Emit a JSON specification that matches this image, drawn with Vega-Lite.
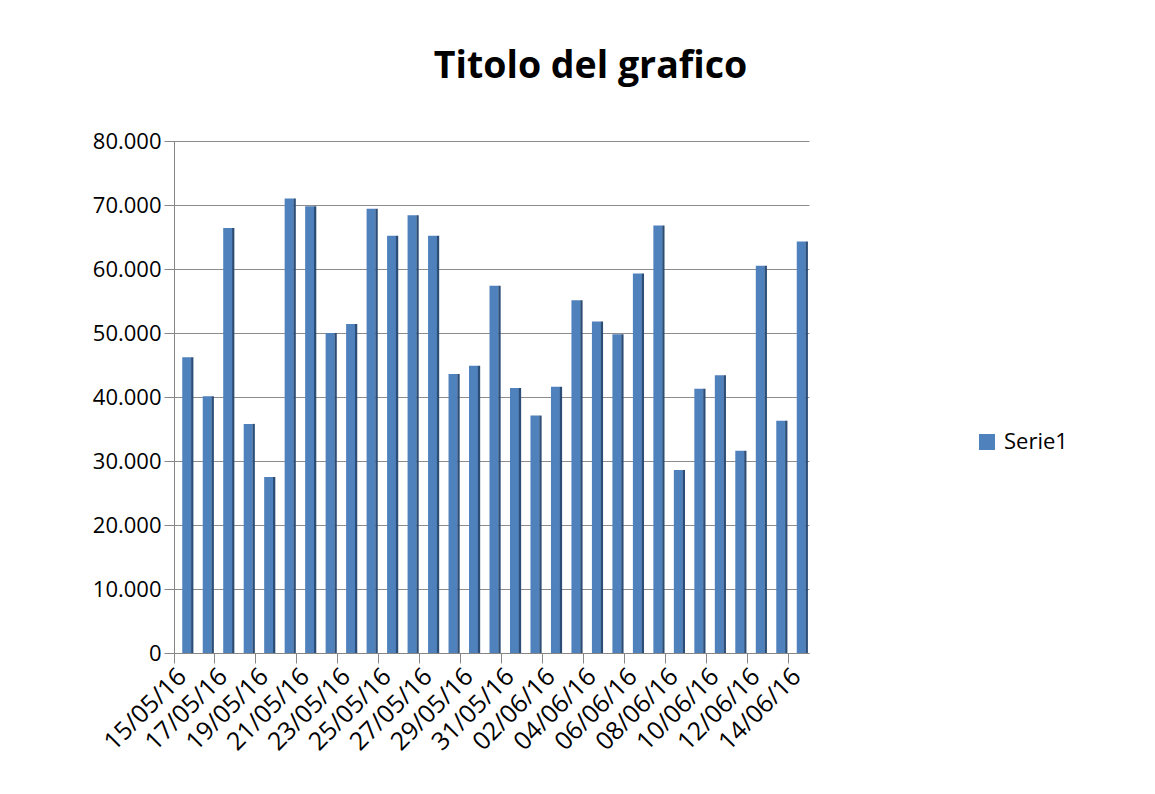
{
  "$schema": "https://vega.github.io/schema/vega-lite/v6.json",
  "width": 635,
  "height": 512,
  "autosize": "none",
  "padding": {"left": 174, "top": 141, "right": 346, "bottom": 141},
  "background": "white",
  "config": {
    "view": {"stroke": null},
    "font": "Open Sans"
  },
  "title": {
    "text": "Titolo del grafico",
    "font": "Open Sans",
    "fontSize": 37.5,
    "fontWeight": "bold",
    "color": "black",
    "anchor": "middle",
    "dx": 99,
    "baseline": "alphabetic",
    "offset": 15
  },
  "data": {
    "values": [
      {"giorno": "15/05/16", "valore": 46200},
      {"giorno": "16/05/16", "valore": 40100},
      {"giorno": "17/05/16", "valore": 66400},
      {"giorno": "18/05/16", "valore": 35800},
      {"giorno": "19/05/16", "valore": 27500},
      {"giorno": "20/05/16", "valore": 71000},
      {"giorno": "21/05/16", "valore": 69800},
      {"giorno": "22/05/16", "valore": 50000},
      {"giorno": "23/05/16", "valore": 51400},
      {"giorno": "24/05/16", "valore": 69400},
      {"giorno": "25/05/16", "valore": 65200},
      {"giorno": "26/05/16", "valore": 68400},
      {"giorno": "27/05/16", "valore": 65200},
      {"giorno": "28/05/16", "valore": 43600},
      {"giorno": "29/05/16", "valore": 44900},
      {"giorno": "30/05/16", "valore": 57400},
      {"giorno": "31/05/16", "valore": 41400},
      {"giorno": "01/06/16", "valore": 37100},
      {"giorno": "02/06/16", "valore": 41600},
      {"giorno": "03/06/16", "valore": 55100},
      {"giorno": "04/06/16", "valore": 51800},
      {"giorno": "05/06/16", "valore": 49800},
      {"giorno": "06/06/16", "valore": 59300},
      {"giorno": "07/06/16", "valore": 66800},
      {"giorno": "08/06/16", "valore": 28600},
      {"giorno": "09/06/16", "valore": 41300},
      {"giorno": "10/06/16", "valore": 43400},
      {"giorno": "11/06/16", "valore": 31600},
      {"giorno": "12/06/16", "valore": 60500},
      {"giorno": "13/06/16", "valore": 36300},
      {"giorno": "14/06/16", "valore": 64300}
    ]
  },
  "encoding": {
    "x": {
      "field": "giorno",
      "type": "ordinal",
      "sort": null,
      "scale": {"paddingInner": 0, "paddingOuter": 0},
      "title": null,
      "axis": {
        "values": ["15/05/16","17/05/16","19/05/16","21/05/16","23/05/16","25/05/16","27/05/16","29/05/16","31/05/16","02/06/16","04/06/16","06/06/16","08/06/16","10/06/16","12/06/16","14/06/16"],
        "bandPosition": 0,
        "labelAngle": -45,
        "labelAlign": "right",
        "labelBaseline": "middle",
        "labelFontSize": 25,
        "labelColor": "black",
        "labelOffset": -2,
        "labelPadding": 9,
        "labelFlush": false,
        "labelOverlap": false,
        "tickSize": 10,
        "tickColor": "#868686",
        "domainColor": "#868686",
        "grid": false
      }
    },
    "y": {
      "field": "valore",
      "type": "quantitative",
      "title": null,
      "scale": {"domain": [0, 80000], "nice": false},
      "axis": {
        "values": [0, 10000, 20000, 30000, 40000, 50000, 60000, 70000, 80000],
        "labelExpr": "replace(format(datum.value, ','), /,/g, '.')",
        "labelFontSize": 22,
        "labelColor": "black",
        "labelPadding": 3,
        "tickSize": 10,
        "tickColor": "#868686",
        "domainColor": "#868686",
        "grid": true,
        "gridColor": "#8c8c8c"
      }
    }
  },
  "layer": [
    {
      "mark": {"type": "bar", "size": 9, "xOffset": 2.5},
      "encoding": {
        "color": {
          "datum": "Serie1",
          "scale": {"range": ["#4f81bd"]},
          "legend": {
            "title": null,
            "orient": "none",
            "legendX": 802,
            "legendY": 290,
            "symbolType": "square",
            "symbolSize": 256,
            "symbolStrokeWidth": 0,
            "labelFontSize": 22,
            "labelColor": "black",
            "labelOffset": 6,
            "padding": 0
          }
        }
      }
    },
    {
      "mark": {"type": "bar", "size": 2.3, "xOffset": 8, "color": "#2c4d75"},
      "encoding": {}
    }
  ]
}
